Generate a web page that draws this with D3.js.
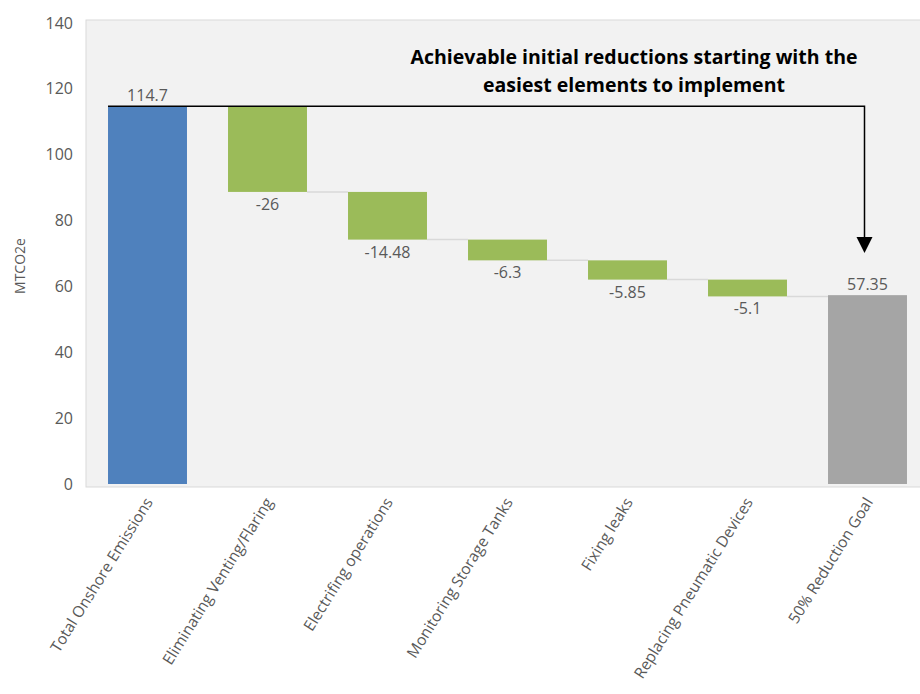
<!DOCTYPE html>
<html><head><meta charset="utf-8">
<script src="https://cdn.jsdelivr.net/npm/d3@7"></script>
<style>body{margin:0;background:#fff}svg{display:block}</style>
</head><body>
<svg id="c" width="920" height="694"></svg>
<script>
const categories = ["Total Onshore Emissions","Eliminating Venting/Flaring","Electrifing operations","Monitoring Storage Tanks","Fixing leaks","Replacing Pneumatic Devices","50% Reduction Goal"];
const values = [114.7, -26, -14.48, -6.3, -5.85, -5.1, 57.35];
const kinds = ["total","delta","delta","delta","delta","delta","goal"];
const yTicks = [0,20,40,60,80,100,120,140];
const title = ["Achievable initial reductions starting with the","easiest elements to implement"];
const yLabel = "MTCO2e";

const colors = {total:"#4f81bd", delta:"#9bbb59", goal:"#a5a5a5"};
const font = "Open Sans, sans-serif";
const svg = d3.select("#c");

const y = d3.scaleLinear().domain([0,140]).range([484,23]);
const x = d3.scaleBand().domain(categories).range([87.5,927.5]).paddingInner(0.342).paddingOuter(0.171);

// compute waterfall
let run = 0;
const bars = categories.map((c,i)=>{
  const k = kinds[i], v = values[i];
  let lo, hi;
  if (k==="delta"){ hi = run; lo = run + v; run = lo; }
  else { lo = 0; hi = v; run = v; }
  return {c,k,v,lo,hi};
});

// plot area
svg.append("rect").attr("x",86).attr("y",20).attr("width",840).attr("height",467)
  .attr("fill","#f2f2f2").attr("stroke","#d9d9d9").attr("stroke-width",1);

// y axis
const ya = svg.append("g").attr("transform","translate(86,0)")
  .call(d3.axisLeft(y).tickValues(yTicks).tickSize(0).tickPadding(13));
ya.select(".domain").remove();
ya.selectAll("text").attr("font-family",font).attr("font-size",16).attr("fill","#595959");

svg.append("text").attr("transform","translate(25,266) rotate(-90)")
  .attr("text-anchor","middle").attr("font-family",font).attr("font-size",14).attr("fill","#595959").text(yLabel);

// connectors
bars.forEach((b,i)=>{
  if (i < bars.length-1 && b.k==="delta"){
    const level = b.lo;
    svg.append("line").attr("x1",x(b.c)+x.bandwidth()).attr("x2",x(categories[i+1]))
      .attr("y1",y(level)).attr("y2",y(level)).attr("stroke","#d9d9d9").attr("stroke-width",1.5);
  }
});

// bars
svg.selectAll("rect.bar").data(bars).join("rect").attr("class","bar")
  .attr("x",d=>x(d.c)).attr("width",x.bandwidth())
  .attr("y",d=>y(d.hi)).attr("height",d=>y(d.lo)-y(d.hi))
  .attr("fill",d=>colors[d.k]);

// value labels
svg.selectAll("text.val").data(bars).join("text").attr("class","val")
  .attr("x",d=>x(d.c)+x.bandwidth()/2)
  .attr("y",d=>d.k==="delta"? y(d.lo)+18 : y(d.hi)-5)
  .attr("text-anchor","middle").attr("font-family",font).attr("font-size",16).attr("fill","#595959")
  .text(d=>d.v);

// x labels
svg.selectAll("text.cat").data(categories).join("text").attr("class","cat")
  .attr("transform",d=>`translate(${x(d)+x.bandwidth()/2+6},${502}) rotate(-58)`)
  .attr("text-anchor","end").attr("font-family",font).attr("font-size",15.5).attr("fill","#595959")
  .text(d=>d);

// annotation line + arrow
const ax = x(categories[6])+x.bandwidth()/2 - 3;
const startY = y(values[0]);
svg.append("path").attr("d",`M${x(categories[0])},${startY}H${ax}V240`)
  .attr("fill","none").attr("stroke","#000").attr("stroke-width",1.5);
svg.append("path").attr("d",`M${ax-8},237L${ax+8},237L${ax},253Z`).attr("fill","#000");

// title
svg.selectAll("text.title").data(title).join("text").attr("class","title")
  .attr("x",634).attr("y",(d,i)=>64+i*28).attr("text-anchor","middle")
  .attr("font-family",font).attr("font-weight","bold").attr("font-size",19.5).attr("fill","#000")
  .text(d=>d);
</script>
</body></html>
